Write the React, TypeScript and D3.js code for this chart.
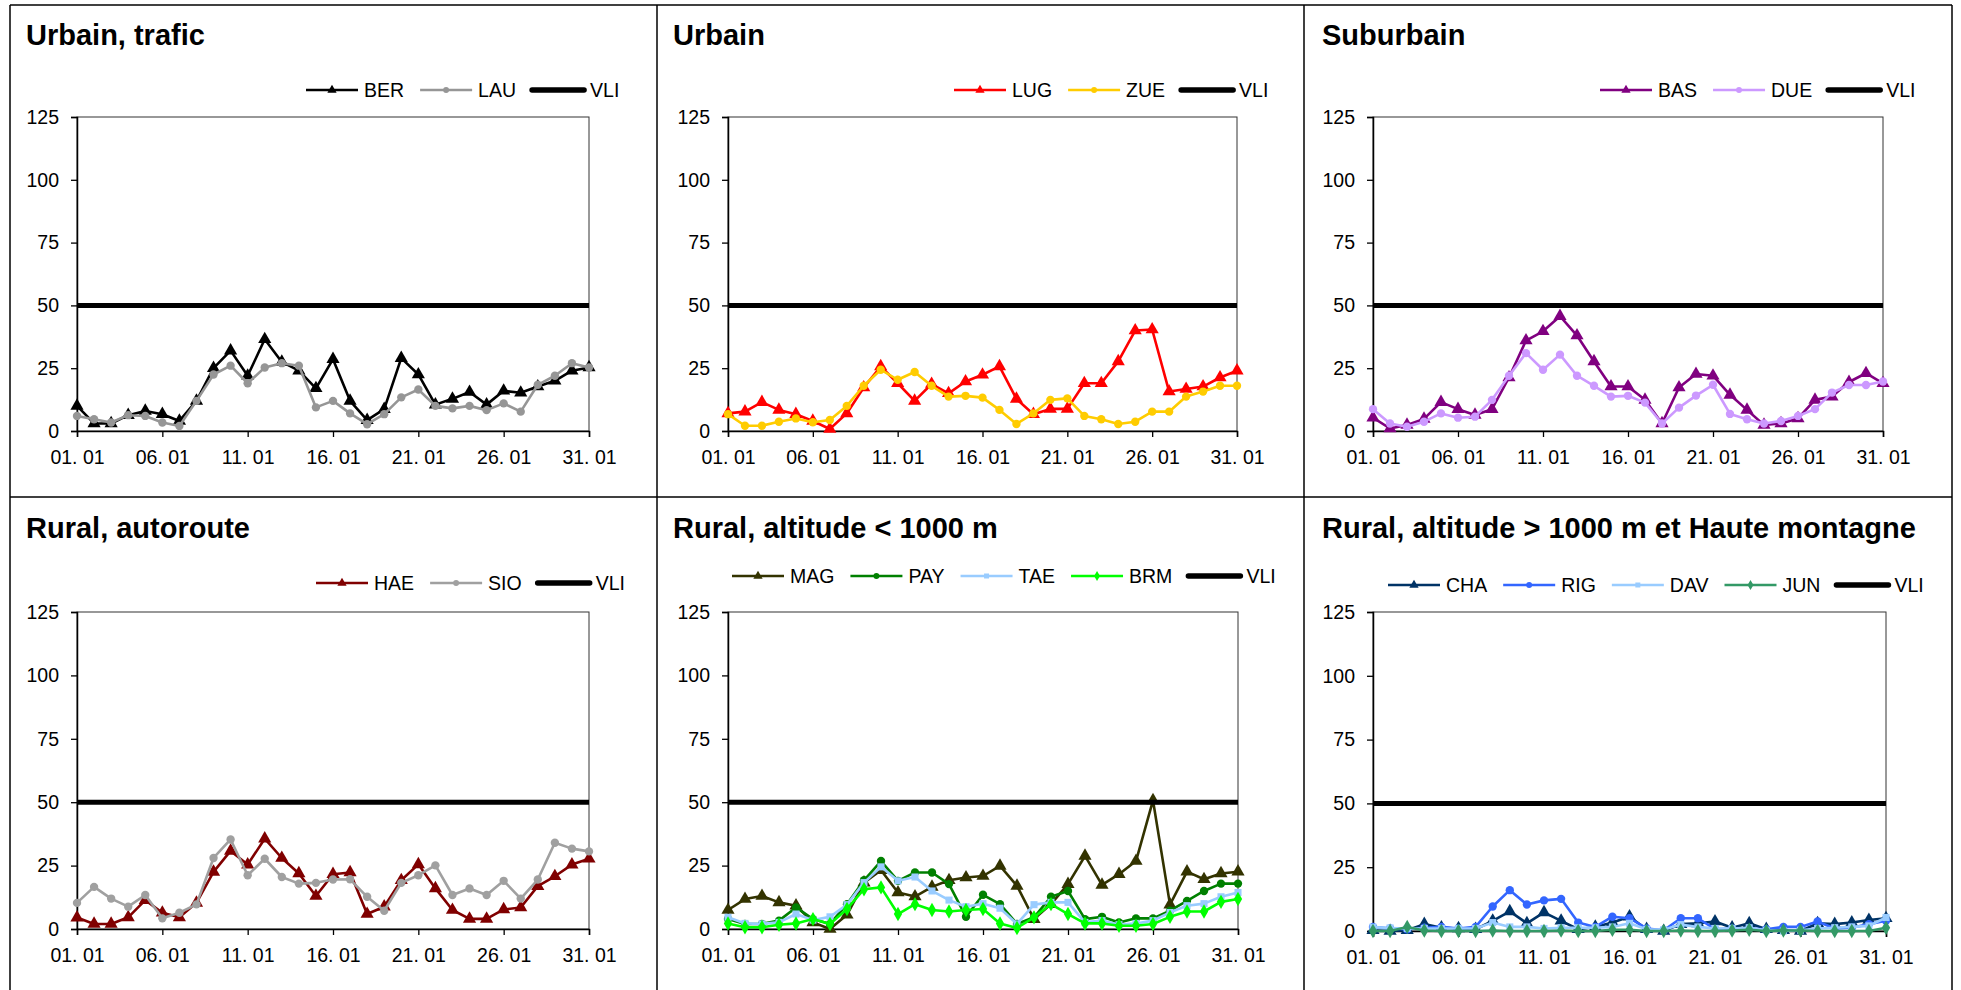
import { useEffect, useRef } from "react";
import * as d3 from "d3";

// jours de janvier
const DAYS = d3.range(1, 32);
const TICK_DAYS = [1, 6, 11, 16, 21, 26, 31];
const TICK_LABELS = ["01. 01", "06. 01", "11. 01", "16. 01", "21. 01", "26. 01", "31. 01"];
const Y_TICKS = [0, 25, 50, 75, 100, 125];
const VLI = 50;

// Urbain, trafic
const BER = [10, 3, 3, 6.3, 8, 6.7, 4, 12, 25, 32, 22, 36.5, 27.5, 24, 17, 28.6, 12, 4.3, 8.7, 29, 22.5, 10.5, 12.8, 15.5, 10.5, 16, 15.2, 17.7, 20, 24, 25.3];
const LAU = [6, 4.7, 3.4, 6.3, 6, 3.4, 2, 12, 22.5, 26, 19, 25.3, 27, 26, 9.4, 12, 7, 2.7, 6.7, 13.4, 16.5, 10, 9, 10, 8.3, 11, 7.7, 18.4, 22, 27, 25.3];
// Urbain
const LUG = [7, 7.7, 11.5, 8.4, 6.7, 4, 0.8, 7, 17.3, 25.7, 19, 12, 18.7, 15, 19.7, 22.4, 25.7, 12.8, 6.7, 8.8, 8.8, 19, 19, 27.7, 40, 40.4, 15.7, 16.7, 17.7, 21.3, 24];
const ZUE = [6.7, 2.1, 2.1, 3.7, 5, 3.5, 4.4, 10, 18, 24.4, 20.4, 23.5, 18, 13.7, 14, 13.3, 8.4, 2.8, 7, 12.4, 13, 6, 4.7, 2.8, 3.7, 7.7, 7.7, 13.7, 15.7, 18, 18];
// Suburbain
const BAS = [5.3, 1, 2.4, 4.8, 11.5, 8.7, 6.4, 8.7, 21.3, 36, 39.7, 45.7, 38, 27.7, 17.7, 17.7, 12.4, 3, 17.3, 22.7, 22, 14.4, 8.4, 2.4, 3, 5, 12.4, 13.7, 19.5, 23, 19];
const DUE = [8.7, 3, 1.7, 3.7, 7, 5.3, 5.7, 12.4, 22, 31, 24.4, 30.4, 22, 18, 13.7, 14, 11.3, 3, 9.3, 14.1, 18.4, 6.8, 4.7, 3, 4, 6, 8.7, 15.3, 18.3, 18.3, 19.7];
// Rural, autoroute
const HAE = [4.5, 2, 2, 4.6, 11.4, 6.4, 4.6, 10.3, 22.5, 30.8, 25.4, 35.6, 28, 21.9, 13, 21.6, 22.3, 5.9, 8.8, 19.2, 25.5, 16, 7.5, 4, 4, 7.7, 8.5, 16.9, 20.8, 25.4, 27.7];
const SIO = [10.3, 16.6, 12, 8.8, 13.4, 4.2, 6.4, 9.7, 28, 35.3, 21.2, 27.7, 20.5, 17.9, 18.2, 19.5, 19.6, 12.7, 7.2, 18.2, 21.2, 25.1, 13.4, 16, 13.4, 19, 12, 19.5, 34, 31.7, 30.6];
// Rural, altitude < 1000 m
const MAG = [7.5, 11.8, 13, 10.5, 9.2, 2.6, 0, 5.6, 18.3, 23.2, 14.4, 12.8, 16.6, 19.2, 20.3, 20.9, 24.9, 17, 3.9, 9.8, 17.7, 28.8, 17.4, 21.6, 26.8, 50.7, 9.6, 22.6, 19.6, 21.9, 22.6];
const PAY = [3.9, 2, 2, 3.3, 8.5, 3.9, 2, 9.8, 19.2, 26.8, 19, 22.3, 22.3, 17.7, 4.8, 13.5, 9.8, 2, 4.6, 12.7, 15, 3.9, 4.8, 2.6, 4.2, 4.2, 7.2, 11.1, 15, 17.9, 17.9];
const TAE = [4.6, 2.2, 2, 2.6, 5.9, 3.5, 4.8, 9.6, 18.3, 24.5, 19, 20.5, 15, 11.4, 8.8, 10, 8.2, 2, 9.6, 10.5, 10.5, 2.6, 3.3, 1.7, 2.2, 3.3, 6.5, 9.2, 10, 12.7, 14.4];
const BRM = [2.2, 0.7, 0.7, 1.7, 2.2, 3.9, 2, 7.9, 15.7, 16.4, 5.9, 9.8, 7.5, 6.9, 7.5, 7.9, 2.2, 0.4, 4.6, 9.8, 5.9, 2.2, 2.2, 1.3, 1.3, 2, 4.8, 6.9, 6.9, 10.7, 11.8];
// Rural, altitude > 1000 m et Haute montagne
const CHA = [0.3, 0, 0.3, 2.7, 1.3, 1, 0.7, 4, 7.7, 3, 7.3, 4, 0.7, 1.6, 3.3, 5.6, 0.7, 0, 2.7, 3, 3.7, 1.3, 3, 0.7, 0.3, 0, 3, 2.7, 3.3, 4.3, 5];
const RIG = [1.6, 1, 0.7, 1.3, 1.6, 1, 1.6, 9.6, 16, 10.4, 12, 12.6, 3.3, 1.6, 5.6, 5, 1, 0.3, 5, 5, 0.7, 1, 1, 0.7, 1.6, 1.6, 3.7, 1, 1.3, 2.7, 4];
const DAV = [1.5, 1.2, 1, 1, 1, 1, 1, 3.3, 1.6, 1.6, 1, 1.3, 1.3, 1.3, 1.6, 3, 0.7, 0.5, 2.5, 1.6, 1, 1, 1.3, 0.3, 0, 0.3, 1, 1.3, 1.6, 2, 5.3];
const JUN = [0, 0, 1.6, 0.2, 0, 0, 0, 0.2, 0, 0, 0, 0.2, 0, 0, 0.5, 0.5, 0, 0, 0.2, 0, 0, 0.2, 0.5, 0, 0.2, 0.2, 0, 0, 0, 0, 1.3];

const TRI = d3.symbolTriangle;
const CIR = d3.symbolCircle;
const SQR = d3.symbolSquare;
const DIA = d3.symbolDiamond;

const PANELS = [
  {
    title: "Urbain, trafic",
    series: [
      { name: "BER", values: BER, color: "#000000", symbol: TRI },
      { name: "LAU", values: LAU, color: "#969696", symbol: CIR },
    ],
  },
  {
    title: "Urbain",
    series: [
      { name: "LUG", values: LUG, color: "#FF0000", symbol: TRI },
      { name: "ZUE", values: ZUE, color: "#FFCC00", symbol: CIR },
    ],
  },
  {
    title: "Suburbain",
    series: [
      { name: "BAS", values: BAS, color: "#800080", symbol: TRI },
      { name: "DUE", values: DUE, color: "#CC99FF", symbol: CIR },
    ],
  },
  {
    title: "Rural, autoroute",
    series: [
      { name: "HAE", values: HAE, color: "#800000", symbol: TRI },
      { name: "SIO", values: SIO, color: "#A0A0A0", symbol: CIR },
    ],
  },
  {
    title: "Rural, altitude < 1000 m",
    series: [
      { name: "MAG", values: MAG, color: "#333300", symbol: TRI },
      { name: "PAY", values: PAY, color: "#008000", symbol: CIR },
      { name: "TAE", values: TAE, color: "#99CCFF", symbol: SQR },
      { name: "BRM", values: BRM, color: "#00FF00", symbol: DIA },
    ],
  },
  {
    title: "Rural, altitude > 1000 m et Haute montagne",
    series: [
      { name: "CHA", values: CHA, color: "#003366", symbol: TRI },
      { name: "RIG", values: RIG, color: "#3366FF", symbol: CIR },
      { name: "DAV", values: DAV, color: "#99CCFF", symbol: SQR },
      { name: "JUN", values: JUN, color: "#339966", symbol: DIA },
    ],
  },
];

// positions des cadres
const LAYOUT = [
  { x0: 77, x1: 589, top: 117, bot: 431, tx: 26, ty: 45, lx: 306, ly: 90 },
  { x0: 728, x1: 1237, top: 117, bot: 431, tx: 673, ty: 45, lx: 954, ly: 90 },
  { x0: 1373, x1: 1883, top: 117, bot: 431, tx: 1322, ty: 45, lx: 1600, ly: 90 },
  { x0: 77, x1: 589, top: 612, bot: 929, tx: 26, ty: 538, lx: 316, ly: 583 },
  { x0: 728, x1: 1238, top: 612, bot: 929, tx: 673, ty: 538, lx: 732, ly: 576 },
  { x0: 1373, x1: 1886, top: 612, bot: 931, tx: 1322, ty: 538, lx: 1388, ly: 585 },
];

const FONT = "'Liberation Sans', Arial, sans-serif";

const markerSize = (s) => (s === TRI ? 75 : s === DIA ? 60 : s === SQR ? 50 : 55);

export default function App() {
  const ref = useRef(null);

  useEffect(() => {
    const svg = d3.select(ref.current);
    svg.selectAll("*").remove();

    /* cellules du tableau */
    const borders = svg.append("g").attr("stroke", "#000").attr("stroke-width", 1.5);
    [10, 657, 1304, 1952].forEach((bx) =>
      borders.append("line").attr("x1", bx).attr("x2", bx).attr("y1", 5).attr("y2", 990)
    );
    [5, 497].forEach((by) =>
      borders.append("line").attr("x1", 10).attr("x2", 1952).attr("y1", by).attr("y2", by)
    );

    PANELS.forEach((p, i) => {
      const L = LAYOUT[i];
      const x = d3.scaleLinear().domain([1, 31]).range([L.x0, L.x1]);
      const y = d3.scaleLinear().domain([0, 125]).range([L.bot, L.top]);
      const g = svg.append("g").attr("font-family", FONT);

      g.append("text")
        .attr("x", L.tx)
        .attr("y", L.ty)
        .attr("font-size", 29)
        .attr("font-weight", "bold")
        .text(p.title);

      // cadre du graphique
      g.append("rect")
        .attr("x", L.x0)
        .attr("y", L.top)
        .attr("width", L.x1 - L.x0)
        .attr("height", L.bot - L.top)
        .attr("fill", "none")
        .attr("stroke", "#333")
        .attr("stroke-width", 1);

      const yAxis = g
        .append("g")
        .attr("transform", `translate(${L.x0},0)`)
        .call(d3.axisLeft(y).tickValues(Y_TICKS).tickSize(6).tickPadding(12));
      const xAxis = g
        .append("g")
        .attr("transform", `translate(0,${L.bot})`)
        .call(
          d3
            .axisBottom(x)
            .tickValues(TICK_DAYS)
            .tickSize(6)
            .tickPadding(13)
            .tickFormat((_, k) => TICK_LABELS[k])
        );
      [yAxis, xAxis].forEach((a) => {
        a.attr("font-family", FONT).attr("font-size", 19.5);
        a.selectAll("text").attr("fill", "#000");
        a.selectAll("line").attr("stroke", "#000").attr("stroke-width", 1.3);
        a.select(".domain").attr("stroke", "#000").attr("stroke-width", 1.5);
      });

      const line = d3
        .line()
        .x((_, k) => x(DAYS[k]))
        .y((d) => y(d));

      p.series.forEach((s) => {
        g.append("path")
          .attr("d", line(s.values))
          .attr("fill", "none")
          .attr("stroke", s.color)
          .attr("stroke-width", 2.6)
          .attr("stroke-linejoin", "round");
        const sym = d3.symbol().type(s.symbol).size(markerSize(s.symbol));
        g.selectAll(null)
          .data(s.values)
          .enter()
          .append("path")
          .attr("transform", (d, k) => `translate(${x(DAYS[k])},${y(d)})`)
          .attr("d", sym)
          .attr("fill", s.color);
      });

      // valeur limite
      g.append("path")
        .attr("d", line(DAYS.map(() => VLI)))
        .attr("fill", "none")
        .attr("stroke", "#000")
        .attr("stroke-width", 5);

      /* légende */
      const items = [...p.series, { name: "VLI", color: "#000", symbol: null }];
      let cx = L.lx;
      items.forEach((it) => {
        g.append("line")
          .attr("x1", cx)
          .attr("x2", cx + 52)
          .attr("y1", L.ly)
          .attr("y2", L.ly)
          .attr("stroke", it.color)
          .attr("stroke-width", it.symbol ? 2.6 : 5.5)
          .attr("stroke-linecap", it.symbol ? "butt" : "round");
        if (it.symbol) {
          g.append("path")
            .attr("transform", `translate(${cx + 26},${L.ly})`)
            .attr("d", d3.symbol().type(it.symbol).size(markerSize(it.symbol) * 0.5)())
            .attr("fill", it.color);
        }
        const t = g
          .append("text")
          .attr("x", cx + 58)
          .attr("y", L.ly)
          .attr("dy", "0.36em")
          .attr("font-size", 19.5)
          .text(it.name);
        cx += 58 + t.node().getComputedTextLength() + 16;
      });
    });

    return () => {
      d3.select(ref.current).selectAll("*").remove();
    };
  }, []);

  return (
    <svg
      ref={ref}
      width={1961}
      height={990}
      style={{ position: "absolute", left: 0, top: 0, background: "#fff" }}
    />
  );
}
